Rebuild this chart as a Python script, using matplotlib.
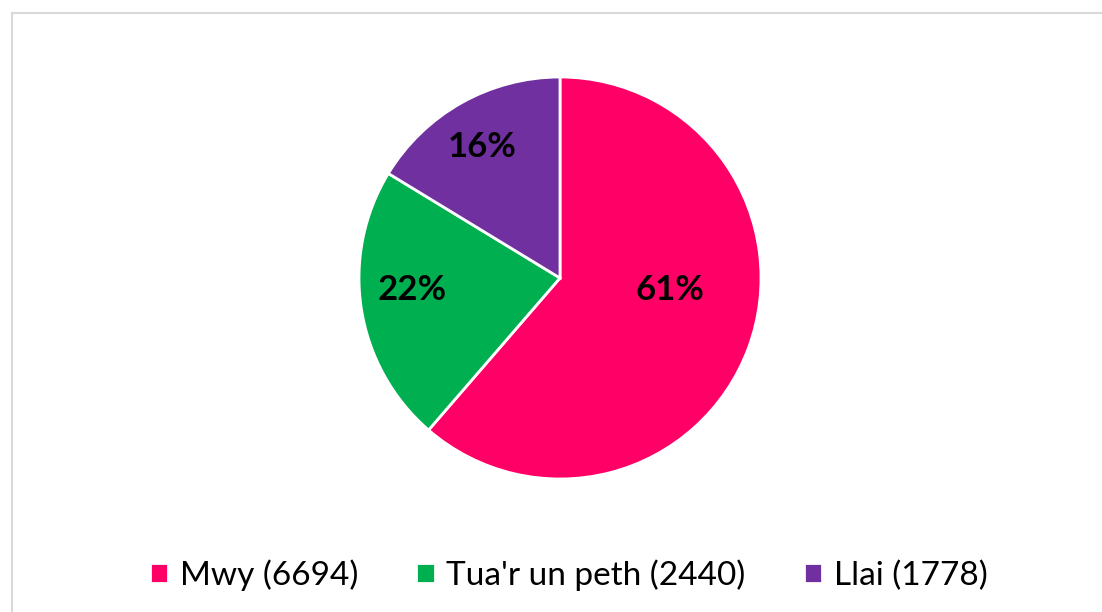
import matplotlib
matplotlib.use("Agg")
import matplotlib.pyplot as plt
from matplotlib.patches import Rectangle

categories = ["Mwy", "Tua'r un peth", "Llai"]
values = [6694, 2440, 1778]
colors = ["#FF0066", "#00B050", "#7030A0"]
pct_labels = ["61%", "22%", "16%"]
label_pos = [(0.547, -0.06), (-0.736, -0.06), (-0.388, 0.652)]

plt.rcParams['font.family'] = ['Lato', 'DejaVu Sans']

fig = plt.figure(figsize=(11.02, 6.12), dpi=100)
fig.patches.append(Rectangle((12/1102, -0.1), 1.2, 1 - 13/612 + 0.1,
                             transform=fig.transFigure, fill=False,
                             edgecolor="#D9D9D9", linewidth=1.5))

ax = fig.add_axes([(560 - 201) / 1102, 1 - (278 + 201) / 612, 402 / 1102, 402 / 612])
wedges, _ = ax.pie(values, colors=colors, startangle=90, counterclock=False,
                   wedgeprops=dict(edgecolor="white", linewidth=2))
ax.set_xlim(-1, 1)
ax.set_ylim(-1, 1)
ax.set_aspect("equal")
for txt, (x, y) in zip(pct_labels, label_pos):
    ax.text(x, y, txt, ha="center", va="center", fontsize=25,
            fontweight="bold", color="black")

legend_labels = [f"{c} ({v})" for c, v in zip(categories, values)]
fig.legend(wedges, legend_labels, loc="center", bbox_to_anchor=(0.516, 1 - 575 / 612),
           ncol=3, frameon=False, fontsize=24, handlelength=0.55, handleheight=0.55,
           handletextpad=0.35, columnspacing=1.75)

fig.savefig("out.png", dpi=100)
